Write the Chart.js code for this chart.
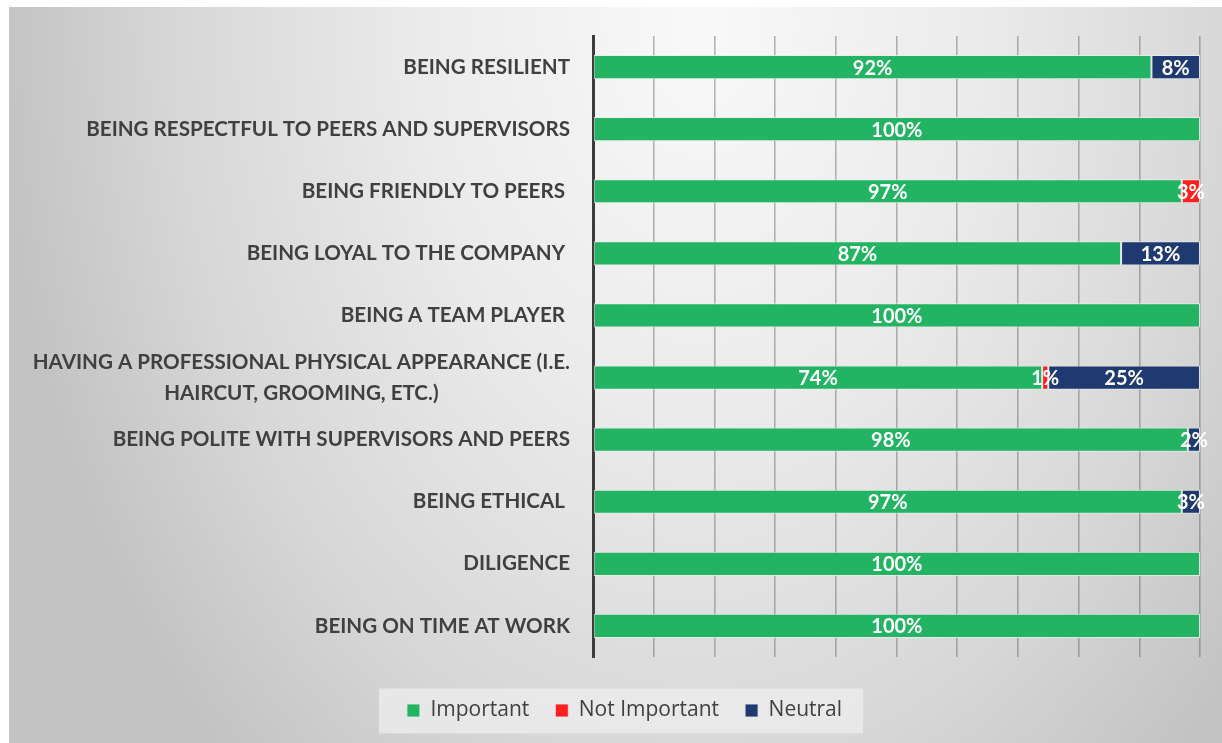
<!DOCTYPE html>
<html><head><meta charset="utf-8">
<script src="https://cdn.jsdelivr.net/npm/chart.js@4.4.0/dist/chart.umd.min.js"></script>
<style>
html,body{margin:0;padding:0;background:#fff;overflow:hidden}
#wrap{position:absolute;left:0;top:0;width:1222px;height:743px}
</style></head>
<body><div id="wrap"><canvas id="c"></canvas></div>
<script>
const categories = [
  'BEING RESILIENT',
  'BEING RESPECTFUL TO PEERS AND SUPERVISORS',
  'BEING FRIENDLY TO PEERS ',
  'BEING LOYAL TO THE COMPANY ',
  'BEING A TEAM PLAYER ',
  ['HAVING A PROFESSIONAL PHYSICAL APPEARANCE (I.E.', 'HAIRCUT, GROOMING, ETC.)'],
  'BEING POLITE WITH SUPERVISORS AND PEERS',
  'BEING ETHICAL ',
  'DILIGENCE',
  'BEING ON TIME AT WORK'
];
const seriesNames = ['Important', 'Not Important', 'Neutral'];
const important    = [92, 100, 97, 87, 100, 74, 98, 97, 100, 100];
const notImportant = [0, 0, 3, 0, 0, 1, 0, 0, 0, 0];
const neutral      = [8, 0, 0, 13, 0, 25, 2, 3, 0, 0];
const xTickValues  = [0, 10, 20, 30, 40, 50, 60, 70, 80, 90, 100];

const colors = ['#22b463', '#ff1f1f', '#1f3a70'];
const LABEL_FONT = 'bold 20.6px Lato';
const DATA_FONT = 'bold 20px Lato';

const bgPlugin = {
  id: 'bg',
  beforeDraw(chart) {
    const ctx = chart.ctx, W = chart.width, H = chart.height;
    ctx.save();
    ctx.fillStyle = '#ffffff';
    ctx.fillRect(0, 0, W, H);
    const x0 = 9, y0 = 7;
    const cx = 700, cy = 20, rx = 700, ry = 1000;
    ctx.translate(cx, cy);
    ctx.scale(rx, ry);
    const g = ctx.createRadialGradient(0, 0, 0, 0, 0, 1);
    g.addColorStop(0, '#f9f9f9');
    g.addColorStop(0.4, '#ebebeb');
    g.addColorStop(0.75, '#d7d7d7');
    g.addColorStop(1, '#c3c3c3');
    ctx.fillStyle = g;
    ctx.fillRect((x0 - cx) / rx, (y0 - cy) / ry, (W - x0) / rx, (H - y0) / ry);
    ctx.restore();
    const lg = chart.legend;
    if (lg && lg.legendHitBoxes && lg.legendHitBoxes.length) {
      const hb = lg.legendHitBoxes;
      const l = Math.min(...hb.map(h => h.left)) - 28;
      const r = Math.max(...hb.map(h => h.left + h.width)) + 21;
      const mid = hb[0].top + hb[0].height / 2;
      ctx.save();
      ctx.fillStyle = 'rgba(238,238,238,0.75)';
      ctx.fillRect(l, mid - 22, r - l, 45);
      ctx.restore();
    }
  }
};

const yLabelPlugin = {
  id: 'ylabels',
  afterDraw(chart) {
    const ctx = chart.ctx, ys = chart.scales.y;
    const right = chart.chartArea.left - 23;
    ctx.save();
    ctx.font = LABEL_FONT;
    ctx.fillStyle = '#404040';
    ctx.textBaseline = 'middle';
    categories.forEach((lab, i) => {
      const y = ys.getPixelForValue(i);
      if (Array.isArray(lab)) {
        const w = Math.max(...lab.map(s => ctx.measureText(s).width));
        const cxp = right - w / 2;
        ctx.textAlign = 'center';
        const lh = 31;
        lab.forEach((s, k) => {
          ctx.fillText(s, cxp, y + (k - (lab.length - 1) / 2) * lh);
        });
      } else {
        ctx.textAlign = 'right';
        ctx.fillText(lab, right, y);
      }
    });
    ctx.restore();
  }
};

const dataLabelPlugin = {
  id: 'dlabels',
  afterDraw(chart) {
    const ctx = chart.ctx;
    ctx.save();
    ctx.font = DATA_FONT;
    ctx.fillStyle = '#ffffff';
    ctx.textAlign = 'center';
    ctx.textBaseline = 'middle';
    chart.data.datasets.forEach((ds, di) => {
      const meta = chart.getDatasetMeta(di);
      meta.data.forEach((el, i) => {
        const v = ds.data[i];
        if (!v) return;
        const p = el.getProps(['x', 'y', 'base'], true);
        ctx.fillText(Math.round(v) + '%', (p.x + p.base) / 2, p.y + 1);
      });
    });
    ctx.restore();
  }
};

const seriesData = [important, notImportant, neutral];
new Chart(document.getElementById('c'), {
  type: 'bar',
  data: {
    labels: categories,
    datasets: seriesNames.map((n, k) => ({
      label: n,
      data: seriesData[k],
      backgroundColor: colors[k],
      borderColor: 'rgba(235,235,235,0.85)',
      borderWidth: 1,
      borderSkipped: false,
      barPercentage: 0.39,
      categoryPercentage: 1
    }))
  },
  options: {
    indexAxis: 'y',
    responsive: true,
    maintainAspectRatio: false,
    animation: false,
    layout: { padding: { left: 49, right: 22, top: 36, bottom: 12 } },
    scales: {
      x: {
        stacked: true,
        min: 0, max: 100,
        afterBuildTicks(scale) { scale.ticks = xTickValues.map(v => ({ value: v })); },
        ticks: { display: false },
        grid: { color: 'rgba(70,70,70,0.38)', lineWidth: 1.6, drawTicks: false },
        border: { display: false },
        afterFit(scale) { scale.height = 17; },
        z: 1
      },
      y: {
        stacked: true,
        ticks: { display: false },
        grid: { display: false, drawTicks: false },
        border: { display: true, color: '#3c3c3c', width: 3 },
        afterFit(scale) { scale.width = 544; },
        z: 2
      }
    },
    plugins: {
      legend: {
        position: 'bottom',
        labels: {
          boxWidth: 13, boxHeight: 13, padding: 26,
          color: '#404040',
          font: { family: 'Open Sans', size: 21 }
        }
      },
      tooltip: { enabled: false }
    }
  },
  plugins: [bgPlugin, yLabelPlugin, dataLabelPlugin]
});
</script>
</body></html>
